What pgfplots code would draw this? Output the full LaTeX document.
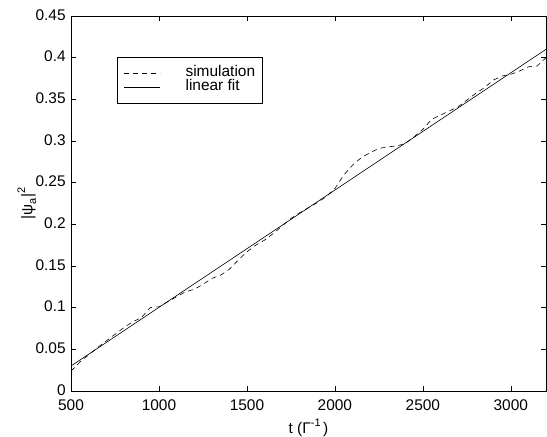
\documentclass[border=0pt]{standalone}
\usepackage{pgfplots}
\pgfplotsset{compat=1.18}
\usepackage{fontspec}
\setmainfont{Liberation Sans}
\begin{document}
\fontsize{15.5}{18}\selectfont
\begin{tikzpicture}
\begin{axis}[
  name=ax,
  scale only axis,
  width=475bp, height=375bp,
  xmin=500, xmax=3200, ymin=0, ymax=0.45,
  xtick={500,1000,...,3000},
  ytick={0,0.05,0.1,0.15,0.2,0.25,0.3,0.35,0.4,0.45},
  scaled ticks=false,
  tick align=inside,
  major tick length=5bp,
  axis line style={line width=0.8bp},
  every tick/.style={black, line width=0.6bp},
  /pgf/number format/assume math mode=true,
  xticklabel style={/pgf/number format/1000 sep={}, /pgf/number format/fixed, yshift=-3bp},
  yticklabel style={/pgf/number format/fixed, /pgf/number format/precision=2, yshift=1bp},
  tick label style={font=\fontsize{15.5}{18}\selectfont},
  label style={font=\fontsize{15.5}{18}\selectfont},
  xlabel={t (Γ\raisebox{0.85ex}{\fontsize{11}{12}\selectfont -1}\,)},
  ylabel={|ψ\raisebox{-0.45ex}{\fontsize{11}{12}\selectfont a}|\raisebox{0.9ex}{\fontsize{11}{12}\selectfont 2}},
  every axis x label/.style={at={(axis description cs:0.5,-0.099)}, anchor=center},
  every axis y label/.style={at={(axis description cs:-0.093,0.5)}, rotate=90, anchor=center},
  legend style={at={(0.096,0.891)}, anchor=north west, draw=black, line width=0.8bp,
    inner xsep=7bp, inner ysep=9bp, column sep=25bp, row sep=0bp,
    font=\fontsize{15.5}{18}\selectfont,
    nodes={inner sep=0pt, text height=10.5bp, text depth=3.5bp}},
  legend cell align=left,
  legend image code/.code={\draw[#1, line width=0.6bp] (0bp,0bp) -- (36bp,0bp);},
]
\addplot[black, line width=0.6bp, dash pattern=on 5bp off 4bp] coordinates {
(500,0.024) (530,0.030) (560,0.037) (600,0.043) (650,0.052) (700,0.060)
(750,0.068) (800,0.076) (850,0.083) (900,0.088) (950,0.100) (975,0.101)
(1000,0.101) (1050,0.107) (1100,0.113) (1150,0.119) (1200,0.122) (1250,0.128)
(1300,0.135) (1350,0.139) (1400,0.146) (1450,0.157) (1500,0.167) (1550,0.175)
(1600,0.181) (1650,0.189) (1700,0.198) (1750,0.207) (1800,0.214) (1850,0.220)
(1900,0.226) (1950,0.233) (2000,0.243) (2050,0.259) (2100,0.271) (2150,0.280)
(2200,0.286) (2250,0.291) (2300,0.293) (2350,0.294) (2400,0.297) (2450,0.305)
(2500,0.314) (2550,0.326) (2600,0.331) (2650,0.336) (2700,0.341) (2750,0.349)
(2800,0.357) (2850,0.364) (2900,0.373) (2950,0.378) (3000,0.380) (3050,0.384)
(3100,0.389) (3150,0.390) (3200,0.400)
};
\addlegendentry{simulation}
\addplot[black, line width=0.6bp] coordinates {(500,0.030) (3200,0.410)};
\addlegendentry{linear fit}
\end{axis}
\pgfresetboundingbox
\path ([shift={(-71bp,-46bp)}]ax.south west) rectangle ([shift={(1bp,16bp)}]ax.north east);
\end{tikzpicture}
\end{document}
